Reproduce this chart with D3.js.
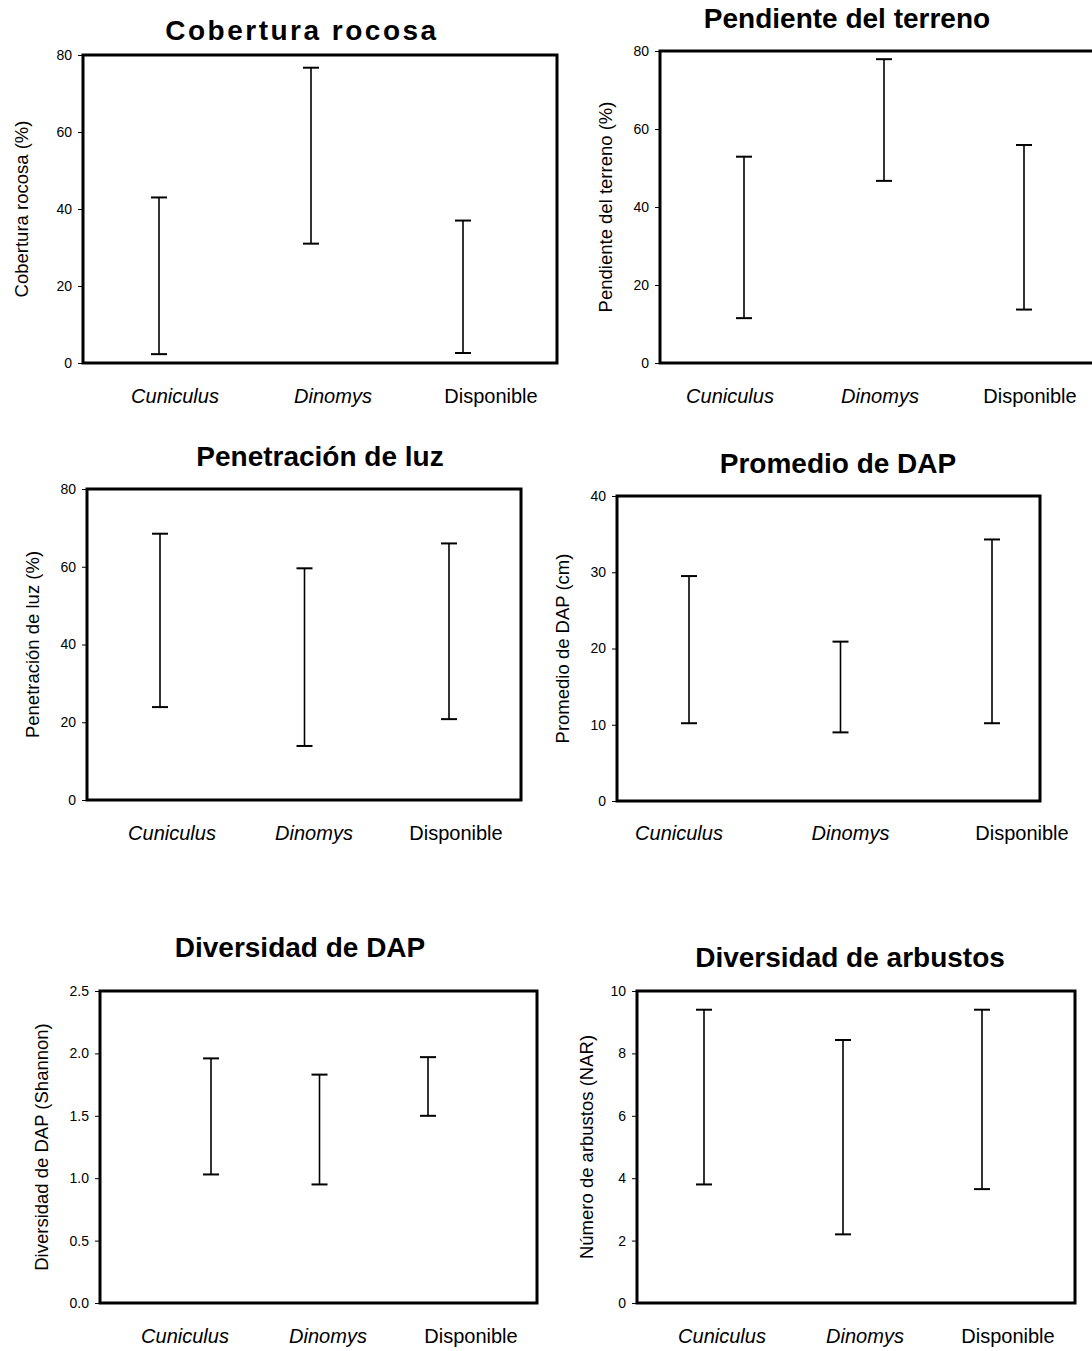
<!DOCTYPE html>
<html>
<head>
<meta charset="utf-8">
<script src="https://cdn.jsdelivr.net/npm/d3@7"></script>
<style>
  html, body { margin: 0; padding: 0; background: #fff; }
  svg { display: block; }
  text { font-family: "Liberation Sans", Arial, sans-serif; fill: #000; }
</style>
</head>
<body>
<svg id="chart" width="1092" height="1351"></svg>
<script>
// Habitat variables: ranges (low-high) per group
const categories = ["Cuniculus", "Dinomys", "Disponible"];
const italicCats = ["Cuniculus", "Dinomys"];

const coberturaLow  = [2.3, 31.0, 2.6];
const coberturaHigh = [43.0, 76.7, 37.0];
const coberturaTicks = [0, 20, 40, 60, 80];

const pendienteLow  = [11.5, 46.7, 13.7];
const pendienteHigh = [52.9, 77.9, 55.9];
const pendienteTicks = [0, 20, 40, 60, 80];

const luzLow  = [23.9, 13.9, 20.8];
const luzHigh = [68.5, 59.6, 66.0];
const luzTicks = [0, 20, 40, 60, 80];

const dapLow  = [10.2, 9.0, 10.2];
const dapHigh = [29.5, 20.9, 34.3];
const dapTicks = [0, 10, 20, 30, 40];

const divDapLow  = [1.03, 0.95, 1.50];
const divDapHigh = [1.96, 1.83, 1.97];
const divDapTicks = [0.0, 0.5, 1.0, 1.5, 2.0, 2.5];

const arbustosLow  = [3.8, 2.2, 3.65];
const arbustosHigh = [9.4, 8.43, 9.4];
const arbustosTicks = [0, 2, 4, 6, 8, 10];

const titles = ["Cobertura rocosa", "Pendiente del terreno", "Penetración de luz",
                "Promedio de DAP", "Diversidad de DAP", "Diversidad de arbustos"];
const yLabels = ["Cobertura rocosa (%)", "Pendiente del terreno (%)", "Penetración de luz (%)",
                 "Promedio de DAP (cm)", "Diversidad de DAP (Shannon)", "Número de arbustos (NAR)"];

// Panel geometry
const panels = [
  { low: coberturaLow, high: coberturaHigh, ticks: coberturaTicks, fmt: d3.format("d"),
    box: [83, 557, 55, 363], bars: [159, 463], labels: [175, 491], labelY: 396,
    titleX: 302, titleY: 40, titleSpacing: 2.5, ylabX: 22, rightBorder: true },
  { low: pendienteLow, high: pendienteHigh, ticks: pendienteTicks, fmt: d3.format("d"),
    box: [660, 1092, 51, 363], bars: [744, 1024], labels: [730, 1030], labelY: 396,
    titleX: 847, titleY: 28, titleSpacing: 0, ylabX: 606, rightBorder: false },
  { low: luzLow, high: luzHigh, ticks: luzTicks, fmt: d3.format("d"),
    box: [87, 521, 489, 800], bars: [160, 449], labels: [172, 456], labelY: 833,
    titleX: 320, titleY: 466, titleSpacing: 0, ylabX: 33, rightBorder: true },
  { low: dapLow, high: dapHigh, ticks: dapTicks, fmt: d3.format("d"),
    box: [617, 1040, 496, 801], bars: [689, 992], labels: [679, 1022], labelY: 833,
    titleX: 838, titleY: 473, titleSpacing: 0, ylabX: 563, rightBorder: true },
  { low: divDapLow, high: divDapHigh, ticks: divDapTicks, fmt: d3.format(".1f"),
    box: [100, 537, 991, 1303], bars: [211, 428], labels: [185, 471], labelY: 1336,
    titleX: 300, titleY: 957, titleSpacing: 0, ylabX: 42, rightBorder: true },
  { low: arbustosLow, high: arbustosHigh, ticks: arbustosTicks, fmt: d3.format("d"),
    box: [637, 1075, 991, 1303], bars: [704, 982], labels: [722, 1008], labelY: 1336,
    titleX: 850, titleY: 967, titleSpacing: 0, ylabX: 587, rightBorder: true }
];

const svg = d3.select("#chart");

panels.forEach((p, i) => {
  const [x0, x1, y0, y1] = p.box;
  const g = svg.append("g");

  const y = d3.scaleLinear()
    .domain([p.ticks[0], p.ticks[p.ticks.length - 1]])
    .range([y1, y0]);
  const xBar = d3.scalePoint().domain(categories).range(p.bars);
  const xLab = d3.scalePoint().domain(categories).range(p.labels);

  // y axis ticks and labels
  const axis = d3.axisLeft(y).tickValues(p.ticks).tickFormat(p.fmt)
    .tickSize(5).tickPadding(6);
  const ax = g.append("g").attr("transform", `translate(${x0},0)`).call(axis);
  ax.select(".domain").remove();
  ax.selectAll(".tick line").attr("stroke", "#000").attr("stroke-width", 1);
  ax.selectAll(".tick text")
    .style("font-size", "14px")
    .style("font-family", "'Liberation Sans', Arial, sans-serif");

  // frame
  const frame = d3.path();
  frame.moveTo(x0, y0); frame.lineTo(x0, y1); frame.lineTo(x1, y1);
  frame.moveTo(x0, y0); frame.lineTo(x1, y0);
  if (p.rightBorder) { frame.lineTo(x1, y1); }
  g.append("path").attr("d", frame.toString())
    .attr("fill", "none").attr("stroke", "#000").attr("stroke-width", 3)
    .attr("stroke-linecap", "square");

  // error ranges
  const capHalf = 8;
  const bars = g.selectAll(".rng").data(categories.map((c, k) => ({ c, lo: p.low[k], hi: p.high[k] })))
    .enter().append("g").attr("class", "rng");
  bars.append("line")
    .attr("x1", d => xBar(d.c)).attr("x2", d => xBar(d.c))
    .attr("y1", d => y(d.lo)).attr("y2", d => y(d.hi))
    .attr("stroke", "#000").attr("stroke-width", 1.6);
  ["lo", "hi"].forEach(key => {
    bars.append("line")
      .attr("x1", d => xBar(d.c) - capHalf).attr("x2", d => xBar(d.c) + capHalf)
      .attr("y1", d => y(d[key])).attr("y2", d => y(d[key]))
      .attr("stroke", "#000").attr("stroke-width", 2);
  });

  // category labels
  g.selectAll(".cat").data(categories).enter().append("text")
    .attr("x", d => xLab(d)).attr("y", p.labelY + 7)
    .attr("text-anchor", "middle")
    .style("font-size", "20px")
    .style("font-style", d => italicCats.includes(d) ? "italic" : "normal")
    .text(d => d);

  // title
  g.append("text")
    .attr("x", p.titleX).attr("y", p.titleY)
    .attr("text-anchor", "middle")
    .style("font-size", "28px").style("font-weight", "bold")
    .style("letter-spacing", p.titleSpacing + "px")
    .text(titles[i]);

  // y axis label
  g.append("text")
    .attr("transform", `translate(${p.ylabX},${(y0 + y1) / 2}) rotate(-90)`)
    .attr("text-anchor", "middle")
    .attr("dy", "0.35em")
    .style("font-size", "18.5px")
    .text(yLabels[i]);
});
</script>
</body>
</html>
